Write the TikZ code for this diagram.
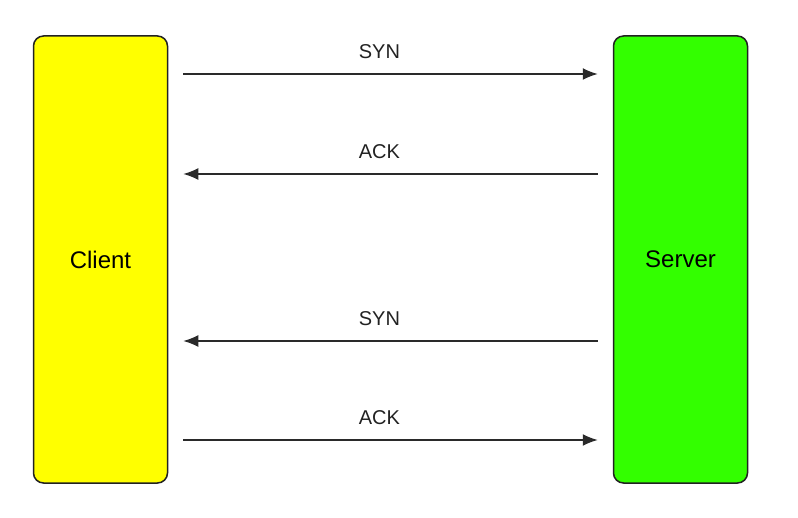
\documentclass[tikz,border=0pt]{standalone}
\usepackage{fontspec}
\setmainfont{Liberation Sans}
\usetikzlibrary{arrows.meta}
\definecolor{edge}{HTML}{222222}
\definecolor{lineclr}{HTML}{2A2A2A}
\definecolor{cyellow}{HTML}{FFFF00}
\definecolor{sgreen}{HTML}{33FF00}
\tikzset{
  hostbox/.style={draw=edge, line width=1.5pt, rounded corners=10pt, minimum width=134pt, minimum height=447pt, inner sep=0pt, font=\fontsize{24}{27}\selectfont},
  msg/.style={draw=lineclr, line width=1.5pt, -{Latex[length=15pt,width=12pt]}, shorten >=15pt, shorten <=15pt},
  lbl/.style={font=\fontsize{20}{23}\selectfont, text=edge}
}
\begin{document}
\begin{tikzpicture}[x=1pt,y=1pt]
\useasboundingbox (0,0) rectangle (798,-518);
\node[hostbox, fill=cyellow] (client) at (100.5,-259.5) {\raisebox{-2pt}{Client}};
\node[hostbox, fill=sgreen] (server) at (680.5,-259.5) {\raisebox{-2pt}{Server}};
\coordinate (y1) at (0,-74);
\coordinate (y2) at (0,-174);
\coordinate (y3) at (0,-341);
\coordinate (y4) at (0,-440);
\draw[msg] (client.east |- y1) -- (server.west |- y1) node[lbl, pos=0.475, above=11pt] {SYN};
\draw[msg] (server.west |- y2) -- (client.east |- y2) node[lbl, pos=0.525, above=11pt] {ACK};
\draw[msg] (server.west |- y3) -- (client.east |- y3) node[lbl, pos=0.525, above=11pt] {SYN};
\draw[msg] (client.east |- y4) -- (server.west |- y4) node[lbl, pos=0.475, above=11pt] {ACK};
\end{tikzpicture}
\end{document}
